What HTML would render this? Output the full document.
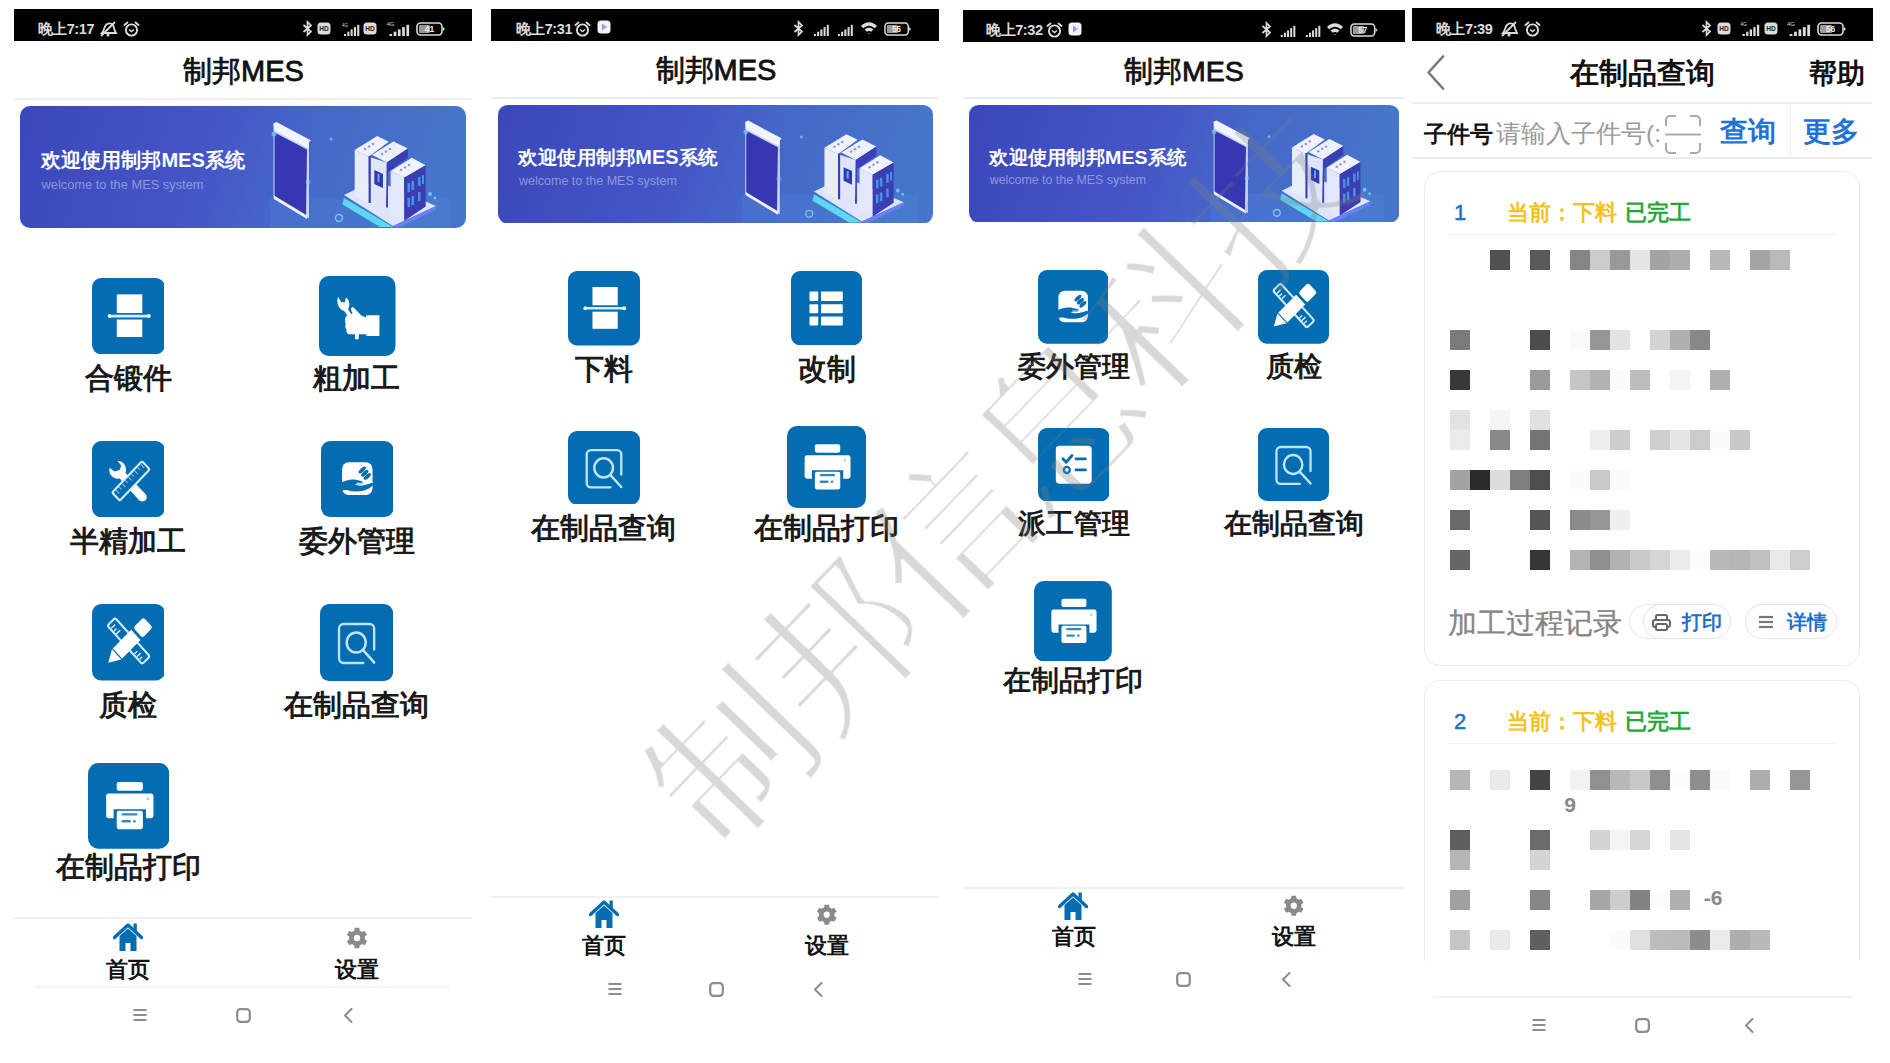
<!DOCTYPE html><html><head><meta charset="utf-8"><style>html,body{margin:0;padding:0}body{width:1890px;height:1063px;overflow:hidden;background:#fff;position:relative;font-family:"Liberation Sans",sans-serif}.a{position:absolute;display:block}.t{position:absolute;white-space:nowrap}</style></head><body>
<div class="a" style="left:14.0px;top:9.0px;width:458.0px;height:32.0px;background:#000;"></div>
<div class="t" style="left:37.5px;top:22.1px;font-size:14.5px;line-height:14.5px;font-weight:bold;color:#dcdcdc;letter-spacing:-0.4px">晚上7:17</div>
<svg class="a" style="left:98px;top:21px" width="20" height="16" viewBox="0 0 20 16"><path d="M4 12 C6 10 6 6 8 4 C10 2 13 2 15 4 C16 6 16 9 18 12 Z" fill="none" stroke="#dcdcdc" stroke-width="1.8"/><line x1="3" y1="15" x2="17" y2="1" stroke="#dcdcdc" stroke-width="1.8"/><circle cx="10" cy="14" r="1.5" fill="#dcdcdc"/></svg>
<svg class="a" style="left:123px;top:21px" width="17" height="16" viewBox="0 0 17 16"><circle cx="8.5" cy="9" r="5.6" fill="none" stroke="#dcdcdc" stroke-width="1.9"/><path d="M6 8.5 L8.5 10.5 L11 8.5" fill="none" stroke="#dcdcdc" stroke-width="1.5"/><path d="M1.5 4 L4.5 1.5 M15.5 4 L12.5 1.5" stroke="#dcdcdc" stroke-width="1.9" stroke-linecap="round"/></svg>
<svg class="a" style="left:301.5px;top:20px" width="11" height="17" viewBox="0 0 11 17"><path d="M1.5 5 L9 11.5 L5.5 15 L5.5 2 L9 5.5 L1.5 12" fill="none" stroke="#dcdcdc" stroke-width="1.7"/></svg>
<svg class="a" style="left:317px;top:22px" width="14" height="13" viewBox="0 0 14 13"><rect x="0.5" y="0.5" width="13" height="12" rx="3.5" fill="#dcdcdc"/><text x="7" y="9.2" font-size="6.5" font-family="Liberation Sans" font-weight="bold" text-anchor="middle" fill="#222">HD</text></svg>
<svg class="a" style="left:338.5px;top:22px" width="21" height="14" viewBox="0 0 21 14" preserveAspectRatio="none"><text x="3" y="4.5" font-size="4.5" font-family="Liberation Sans" fill="#dcdcdc">4G</text><rect x="5.0" y="12.0" width="2.1" height="2.0" fill="#dcdcdc"/><rect x="8.3" y="9.7" width="2.1" height="4.3" fill="#dcdcdc"/><rect x="11.6" y="7.4" width="2.1" height="6.6" fill="#dcdcdc"/><rect x="14.9" y="5.1" width="2.1" height="8.9" fill="#dcdcdc"/><rect x="18.2" y="2.8" width="2.1" height="11.2" fill="#dcdcdc"/></svg>
<svg class="a" style="left:363px;top:22px" width="14" height="13" viewBox="0 0 14 13"><rect x="0.5" y="0.5" width="13" height="12" rx="3.5" fill="#dcdcdc"/><text x="7" y="9.2" font-size="6.5" font-family="Liberation Sans" font-weight="bold" text-anchor="middle" fill="#222">HD</text></svg>
<svg class="a" style="left:382.5px;top:22px" width="27" height="14" viewBox="0 0 21 14" preserveAspectRatio="none"><text x="3" y="4.5" font-size="4.5" font-family="Liberation Sans" fill="#dcdcdc">4G</text><rect x="5.0" y="12.0" width="2.1" height="2.0" fill="#dcdcdc"/><rect x="8.3" y="9.7" width="2.1" height="4.3" fill="#dcdcdc"/><rect x="11.6" y="7.4" width="2.1" height="6.6" fill="#dcdcdc"/><rect x="14.9" y="5.1" width="2.1" height="8.9" fill="#dcdcdc"/><rect x="18.2" y="2.8" width="2.1" height="11.2" fill="#dcdcdc"/></svg>
<svg class="a" style="left:415.5px;top:22px" width="30" height="14" viewBox="0 0 30 14" preserveAspectRatio="none"><rect x="1" y="1" width="25" height="12" rx="3.5" fill="none" stroke="#dcdcdc" stroke-width="1.6"/><rect x="3" y="3" width="11" height="8" rx="1.2" fill="#9a9a9a"/><text x="13.5" y="10.3" font-size="8.5" font-family="Liberation Sans" font-weight="bold" text-anchor="middle" fill="#eee">41</text><path d="M27 5 L29 7 L27 9 Z" fill="#dcdcdc"/></svg>
<div class="t" style="left:-56.5px;width:600px;top:57.0px;font-size:29px;line-height:29px;font-weight:normal;color:#111;text-align:center;-webkit-text-stroke:0.8px #111">制邦MES</div>
<div class="a" style="left:14.0px;top:97.5px;width:458.0px;height:2.0px;background:#efefef;"></div>
<svg class="a" style="left:20.0px;top:106.0px" width="446.0" height="122.0" viewBox="0 0 446 122" preserveAspectRatio="none">
<defs><linearGradient id="bg20" x1="0" y1="0" x2="1" y2="0.1"><stop offset="0" stop-color="#3b47ba"/><stop offset="0.45" stop-color="#4555c6"/><stop offset="0.66" stop-color="#4567c8"/><stop offset="1" stop-color="#4676c9"/></linearGradient>
<linearGradient id="ph20" x1="0" y1="0" x2="0" y2="1"><stop offset="0" stop-color="#3438b0"/><stop offset="1" stop-color="#3a3fbc"/></linearGradient></defs>
<rect x="0" y="0" width="446" height="122" rx="10" ry="10" fill="url(#bg20)"/>
<text x="21" y="61" font-family="Liberation Sans" font-weight="bold" font-size="20" fill="#fff" textLength="204" lengthAdjust="spacingAndGlyphs">欢迎使用制邦MES系统</text>
<text x="21.5" y="82.5" font-family="Liberation Sans" font-size="12.6" fill="#fff" fill-opacity="0.42" textLength="162" lengthAdjust="spacingAndGlyphs">welcome to the MES system</text>
<rect x="250" y="92" width="180" height="30" fill="#4f86e0" opacity="0.25"/>
<path d="M253.5 17.5 L289 36 L289 112.5 L253.5 92 Z" fill="#c9d3f7"/>
<path d="M254.5 26.5 L287 43.5 L286 109.5 L254.5 90.5 Z" fill="#3638b2"/>
<path d="M253.5 17.5 L256.5 16 L291 34.5 L289 36 L288.5 42.5 L254.5 24.5 Z" fill="#f2f5ff"/>
<path d="M254 89.5 L287 109.5 L287 113 L254 93 Z" fill="#eef2ff"/>
<circle cx="254" cy="28" r="2.5" fill="#6fd6ff" opacity="0.6"/><circle cx="288" cy="76" r="2.5" fill="#6fd6ff" opacity="0.5"/>
<circle cx="311" cy="33" r="1.5" fill="#6fd6ff" opacity="0.7"/><circle cx="319" cy="112" r="3.5" fill="none" stroke="#8fe6ff" stroke-width="1.4" opacity="0.7"/>
<path d="M324 89 L355 74 L416 100 L373 120 Z" fill="#dfe5fb"/>
<path d="M322.5 98.5 L360 121 L373 121 L324 92 Z" fill="#5fe3f7" opacity="0.9"/>
<path d="M373 120 L416 100 L416 104 L378 122 Z" fill="#6a7ff0"/>
<path d="M334.7 44 L357.2 30.1 L368.7 35.8 L348.6 50.7 Z" fill="#f0f2fd"/>
<path d="M334.7 44 L348.6 50.7 L348.6 97 L334.7 90 Z" fill="#e8ecfb"/>
<path d="M352 48.8 L373.5 35.4 L387.9 42.6 L366.8 56.5 Z" fill="#eef1fd"/>
<path d="M348.6 50.7 L366.8 56.5 L366.8 101.6 L348.6 97 Z" fill="#dfe5fa"/>
<path d="M366.8 56.5 L387.9 42.6 L387.9 52 L368 66 L368 101.6 L366 101.6 Z" fill="#3a3fb6"/>
<rect x="348.6" y="50" width="2.2" height="47" fill="#3a3fb6"/>
<path d="M354.3 64 L363 68 L363 82 L354.3 78 Z" fill="#3438b4"/>
<rect x="357.5" y="68" width="2" height="8" fill="#4fb0ea"/>
<path d="M370.7 65.1 L391.8 51.7 L405.7 59.3 L384.1 71.8 Z" fill="#f1f3fe"/>
<path d="M370.7 65.1 L384.1 71.8 L384.1 115 L370.7 108 Z" fill="#e3e8fb"/>
<path d="M384.1 71.8 L405.7 59.3 L405.7 100.6 L384.1 115 Z" fill="#3a3db3"/>
<g fill="#4aa0e6" opacity="0.85"><rect x="387.5" y="77" width="2.6" height="9"/><rect x="391.5" y="75" width="2.6" height="9"/><rect x="398" y="71" width="2.6" height="9"/><rect x="402" y="69" width="2" height="9"/><rect x="387.5" y="92" width="2.6" height="9"/><rect x="391.5" y="90" width="2.6" height="9"/><rect x="398" y="86" width="2.6" height="9"/></g>
<g fill="#8f98e2"><circle cx="345" cy="43" r="1.3"/><circle cx="349" cy="40.5" r="1.3"/><circle cx="353" cy="38" r="1.3"/><circle cx="362" cy="48" r="1.3"/><circle cx="366" cy="45.5" r="1.3"/><circle cx="370" cy="43" r="1.3"/><circle cx="381" cy="64" r="1.3"/><circle cx="385" cy="61.5" r="1.3"/><circle cx="389" cy="59" r="1.3"/></g>
<circle cx="410" cy="88" r="2" fill="#6fd6ff" opacity="0.8"/><circle cx="415" cy="92" r="1.4" fill="#6fd6ff" opacity="0.8"/>
</svg>
<svg class="a" style="left:91.6px;top:277.6px" width="72.9" height="76.2" viewBox="0 0 100 100" preserveAspectRatio="none"><rect x="0" y="0" width="100" height="100" rx="12.5" ry="12.5" fill="#046cb0"/><rect x="34" y="21.5" width="35" height="24.5" fill="#fff"/>
<rect x="34" y="54.5" width="35" height="23" fill="#fff"/>
<line x1="24" y1="50" x2="78" y2="50" stroke="#cdeeff" stroke-width="3.5" stroke-linecap="round"/>
<circle cx="24" cy="50" r="2.6" fill="#e6f7ff"/><circle cx="78" cy="50" r="2.6" fill="#e6f7ff"/></svg>
<div class="t" style="left:-171.2px;width:600px;top:364.0px;font-size:29px;line-height:29px;font-weight:bold;color:#1a1a1a;text-align:center;">合锻件</div>
<svg class="a" style="left:319.1px;top:275.7px" width="76.5" height="79.9" viewBox="0 0 100 100" preserveAspectRatio="none"><rect x="0" y="0" width="100" height="100" rx="12.5" ry="12.5" fill="#046cb0"/><path d="M25 26 C22 34 26 42 33 44 L40 53 L44 50 L38 42 C41 36 40 30 35 27 L34 33 L29 33 Z" fill="#fff"/>
<path d="M34 55 C34 51 37 48 41 48 L44 47 L42 43 C41 40 44 38 46 40 L55 49 L61 52 L62 49 L79 49 L79 75 L62 75 L62 73 L52 73 L52 78 C52 80 47 80 47 78 L47 73 L41 73 C37 73 35 70 36 67 C34 65 34 62 35 60 C34 58 34 56 34 55 Z" fill="#fff"/></svg>
<div class="t" style="left:56.5px;width:600px;top:364.0px;font-size:29px;line-height:29px;font-weight:bold;color:#1a1a1a;text-align:center;">粗加工</div>
<svg class="a" style="left:91.6px;top:440.7px" width="72.9" height="76.3" viewBox="0 0 100 100" preserveAspectRatio="none"><rect x="0" y="0" width="100" height="100" rx="12.5" ry="12.5" fill="#046cb0"/><path d="M24 35 C22 44 30 51 38 49 L64 77 C67 80 72 80 74 77 C76 74 75 71 73 69 L46 42 C49 34 43 26 35 26 L40 32 L38 38 L31 40 Z" fill="#fff"/>
<g transform="rotate(-45 53 52)"><rect x="24" y="45" width="58" height="15" rx="2" fill="#046cb0" stroke="#d6f0ff" stroke-width="2.8"/>
<g stroke="#8cc6ee" stroke-width="1.4"><line x1="30" y1="46.5" x2="30" y2="53"/><line x1="36" y1="46.5" x2="36" y2="51"/><line x1="42" y1="46.5" x2="42" y2="53"/><line x1="48" y1="46.5" x2="48" y2="51"/><line x1="54" y1="46.5" x2="54" y2="53"/><line x1="60" y1="46.5" x2="60" y2="51"/><line x1="66" y1="46.5" x2="66" y2="53"/><line x1="72" y1="46.5" x2="72" y2="51"/><line x1="78" y1="46.5" x2="78" y2="53"/></g></g></svg>
<div class="t" style="left:-171.7px;width:600px;top:527.1px;font-size:29px;line-height:29px;font-weight:bold;color:#1a1a1a;text-align:center;">半精加工</div>
<svg class="a" style="left:320.7px;top:441.0px" width="72.6" height="76.0" viewBox="0 0 100 100" preserveAspectRatio="none"><rect x="0" y="0" width="100" height="100" rx="12.5" ry="12.5" fill="#046cb0"/><rect x="29" y="28" width="42" height="43" rx="9" fill="#fff"/>
<path d="M27 55 C36 51 44 49 56 53 C59 54 58 57 54 57 L46 57 C52 60 60 59 70 55 L72 58 C64 66 52 68 38 65 C34 64 30 65 27 66 Z" fill="#046cb0"/>
<path d="M49 55.5 C53 56 56 55.5 57 55" fill="none" stroke="#bfe4fb" stroke-width="1.5"/>
<g transform="rotate(-40 60 42)" fill="#046cb0"><ellipse cx="60" cy="37" rx="6" ry="2.6"/><ellipse cx="60" cy="42.5" rx="6" ry="2.6"/><ellipse cx="60" cy="48" rx="6" ry="2.6"/></g></svg>
<div class="t" style="left:57.2px;width:600px;top:527.1px;font-size:29px;line-height:29px;font-weight:bold;color:#1a1a1a;text-align:center;">委外管理</div>
<svg class="a" style="left:91.6px;top:604.0px" width="72.9" height="76.6" viewBox="0 0 100 100" preserveAspectRatio="none"><rect x="0" y="0" width="100" height="100" rx="12.5" ry="12.5" fill="#046cb0"/><g transform="rotate(46.5 50.25 48.3)"><rect x="15.5" y="41" width="69.5" height="14.6" rx="3" fill="none" stroke="#cfeeff" stroke-width="2.8"/>
<g stroke="#cfeeff" stroke-width="2"><line x1="22" y1="54" x2="22" y2="47"/><line x1="27" y1="54" x2="27" y2="49"/><line x1="32" y1="54" x2="32" y2="47"/><line x1="68" y1="54" x2="68" y2="49"/><line x1="73" y1="54" x2="73" y2="47"/><line x1="78" y1="54" x2="78" y2="49"/></g></g>
<g transform="rotate(-44 50.1 50)"><rect x="29" y="40.8" width="35" height="18.4" fill="#fff"/><rect x="68" y="40.8" width="19.5" height="18.4" rx="3.5" fill="#fff"/>
<path d="M27.5 40.8 L27.5 59.2 L11.5 50 Z" fill="#fff"/></g></svg>
<div class="t" style="left:-172.0px;width:600px;top:690.5px;font-size:29px;line-height:29px;font-weight:bold;color:#1a1a1a;text-align:center;">质检</div>
<svg class="a" style="left:320.3px;top:603.6px" width="73.2" height="77.0" viewBox="0 0 100 100" preserveAspectRatio="none"><rect x="0" y="0" width="100" height="100" rx="12.5" ry="12.5" fill="#046cb0"/><path d="M59 76.5 H32 a6 6 0 0 1 -6 -6 V32 a6 6 0 0 1 6 -6 H68 a6 6 0 0 1 6 6 V59" fill="none" stroke="#bfe4fb" stroke-width="3.2" stroke-linecap="round"/>
<circle cx="49.5" cy="50" r="13" fill="none" stroke="#bfe4fb" stroke-width="3.4"/>
<line x1="59" y1="60" x2="74" y2="76" stroke="#bfe4fb" stroke-width="3.4" stroke-linecap="round"/></svg>
<div class="t" style="left:56.9px;width:600px;top:690.5px;font-size:29px;line-height:29px;font-weight:bold;color:#1a1a1a;text-align:center;">在制品查询</div>
<svg class="a" style="left:87.5px;top:762.9px" width="81.4" height="85.7" viewBox="0 0 100 100" preserveAspectRatio="none"><rect x="0" y="0" width="100" height="100" rx="12.5" ry="12.5" fill="#046cb0"/><rect x="35.3" y="22.2" width="32.1" height="10.3" rx="2.5" fill="#fff"/>
<path d="M25.3 35.6 H77.4 a3 3 0 0 1 3 3 V61.4 a3 3 0 0 1 -3 3 H71.2 V54.1 H31.5 V64.4 H25.3 a3 3 0 0 1 -3 -3 V38.6 a3 3 0 0 1 3 -3 Z" fill="#fff"/>
<rect x="35.3" y="55.7" width="32.1" height="21.6" rx="2.5" fill="#fff"/>
<rect x="41.3" y="58.6" width="19.6" height="2.8" rx="1.4" fill="#046cb0" opacity="0.8"/>
<rect x="41.3" y="66.6" width="11.4" height="2.8" rx="1.4" fill="#046cb0" opacity="0.8"/>
<circle cx="57" cy="68" r="1.6" fill="#046cb0" opacity="0.8"/>
<circle cx="73.4" cy="42" r="1.6" fill="#9fd0f0"/></svg>
<div class="t" style="left:-172.0px;width:600px;top:853.0px;font-size:29px;line-height:29px;font-weight:bold;color:#1a1a1a;text-align:center;">在制品打印</div>
<div class="a" style="left:14.0px;top:917.0px;width:458.0px;height:2.0px;background:#f0f0f0;"></div>
<svg class="a" style="left:113.2px;top:922.5px" width="30.0" height="29.0" viewBox="0 0 30 29"><path d="M6.5 13 L15 5.5 L23.5 13 L23.5 28 L17.5 28 L17.5 20 L12.5 20 L12.5 28 L6.5 28 Z" fill="#046cb0"/><path d="M1.5 14.5 L15 2 L28.5 14.5" fill="none" stroke="#046cb0" stroke-width="3.4" stroke-linecap="round" stroke-linejoin="round"/><rect x="20.5" y="0.5" width="3.3" height="8" fill="#046cb0"/></svg>
<svg class="a" style="left:345.0px;top:925.6px" width="24" height="24" viewBox="0 0 24 24"><path d="M9.40 4.44 L9.64 1.77 L14.36 1.77 L14.60 4.44 L17.25 5.96 L19.68 4.84 L22.04 8.93 L19.85 10.47 L19.85 13.53 L22.04 15.07 L19.68 19.16 L17.25 18.04 L14.60 19.56 L14.36 22.23 L9.64 22.23 L9.40 19.56 L6.75 18.04 L4.32 19.16 L1.96 15.07 L4.15 13.53 L4.15 10.47 L1.96 8.93 L4.32 4.84 L6.75 5.96 Z M15.2 12 A3.2 3.2 0 1 0 8.8 12 A3.2 3.2 0 1 0 15.2 12 Z" fill="#8a8a8a" fill-rule="evenodd"/></svg>
<div class="t" style="left:-171.7px;width:600px;top:958.7px;font-size:22px;line-height:22px;font-weight:bold;color:#111;text-align:center;">首页</div>
<div class="t" style="left:57.2px;width:600px;top:958.7px;font-size:22px;line-height:22px;font-weight:bold;color:#111;text-align:center;">设置</div>
<div class="a" style="left:35.0px;top:986.0px;width:414.0px;height:1.5px;background:#f2f2f2;"></div>
<svg class="a" style="left:133.0px;top:1008.0px" width="14" height="14" viewBox="0 0 14 14"><g stroke="#8c8c8c" stroke-width="2"><line x1="0.5" y1="2" x2="13.5" y2="2"/><line x1="0.5" y1="7" x2="13.5" y2="7"/><line x1="0.5" y1="12" x2="13.5" y2="12"/></g></svg>
<svg class="a" style="left:235.5px;top:1008.0px" width="15" height="15" viewBox="0 0 15 15"><rect x="1.2" y="1.2" width="12.6" height="12.6" rx="3.2" fill="none" stroke="#8c8c8c" stroke-width="2.2"/></svg>
<svg class="a" style="left:343.0px;top:1008.0px" width="10" height="15" viewBox="0 0 10 15"><path d="M8.5 1 L2 7.5 L8.5 14" fill="none" stroke="#8c8c8c" stroke-width="2" stroke-linecap="round" stroke-linejoin="round"/></svg>
<div class="a" style="left:491.0px;top:8.6px;width:448.0px;height:32.0px;background:#000;"></div>
<div class="t" style="left:515.5px;top:21.8px;font-size:14.5px;line-height:14.5px;font-weight:bold;color:#dcdcdc;letter-spacing:-0.4px">晚上7:31</div>
<svg class="a" style="left:574px;top:20.5px" width="17" height="16" viewBox="0 0 17 16"><circle cx="8.5" cy="9" r="5.6" fill="none" stroke="#dcdcdc" stroke-width="1.9"/><path d="M6 8.5 L8.5 10.5 L11 8.5" fill="none" stroke="#dcdcdc" stroke-width="1.5"/><path d="M1.5 4 L4.5 1.5 M15.5 4 L12.5 1.5" stroke="#dcdcdc" stroke-width="1.9" stroke-linecap="round"/></svg>
<svg class="a" style="left:597px;top:20px" width="14" height="14" viewBox="0 0 14 14"><rect x="0.5" y="0.5" width="13" height="13" rx="3.5" fill="#f4f4f8"/><path d="M5 3.5 L10.5 7 L5 10.5 Z" fill="#f09ab8"/><path d="M5 3.5 L8 7 L5 10.5Z" fill="#7aa4f0"/></svg>
<svg class="a" style="left:792.5px;top:19.5px" width="11" height="17" viewBox="0 0 11 17"><path d="M1.5 5 L9 11.5 L5.5 15 L5.5 2 L9 5.5 L1.5 12" fill="none" stroke="#dcdcdc" stroke-width="1.7"/></svg>
<svg class="a" style="left:808.5px;top:21.5px" width="20.5" height="14" viewBox="0 0 21 14" preserveAspectRatio="none"><rect x="5.0" y="12.0" width="2.1" height="2.0" fill="#dcdcdc"/><rect x="8.3" y="9.7" width="2.1" height="4.3" fill="#dcdcdc"/><rect x="11.6" y="7.4" width="2.1" height="6.6" fill="#dcdcdc"/><rect x="14.9" y="5.1" width="2.1" height="8.9" fill="#dcdcdc"/><rect x="18.2" y="2.8" width="2.1" height="11.2" fill="#dcdcdc"/></svg>
<svg class="a" style="left:832.5px;top:21.5px" width="20.5" height="14" viewBox="0 0 21 14" preserveAspectRatio="none"><rect x="5.0" y="12.0" width="2.1" height="2.0" fill="#dcdcdc"/><rect x="8.3" y="9.7" width="2.1" height="4.3" fill="#dcdcdc"/><rect x="11.6" y="7.4" width="2.1" height="6.6" fill="#dcdcdc"/><rect x="14.9" y="5.1" width="2.1" height="8.9" fill="#dcdcdc"/><rect x="18.2" y="2.8" width="2.1" height="11.2" fill="#dcdcdc"/></svg>
<svg class="a" style="left:859.5px;top:20.5px" width="18" height="14" viewBox="0 0 18 14"><path d="M1 5 C6 0 12 0 17 5 L14.8 7.2 C11 3.8 7 3.8 3.2 7.2 Z M4.6 8.6 C7.5 6 10.5 6 13.4 8.6 L11.2 10.8 C9.8 9.6 8.2 9.6 6.8 10.8 Z M8.2 12.2 L9 13.2 L9.8 12.2 C9.3 11.8 8.7 11.8 8.2 12.2Z" fill="#dcdcdc"/></svg>
<svg class="a" style="left:883.5px;top:21.5px" width="28" height="14" viewBox="0 0 30 14" preserveAspectRatio="none"><rect x="1" y="1" width="25" height="12" rx="3.5" fill="none" stroke="#dcdcdc" stroke-width="1.6"/><rect x="3" y="3" width="12" height="8" rx="1.2" fill="#9a9a9a"/><text x="13.5" y="10.3" font-size="8.5" font-family="Liberation Sans" font-weight="bold" text-anchor="middle" fill="#eee">55</text><path d="M27 5 L29 7 L27 9 Z" fill="#dcdcdc"/></svg>
<div class="t" style="left:416.0px;width:600px;top:56.0px;font-size:29px;line-height:29px;font-weight:normal;color:#111;text-align:center;-webkit-text-stroke:0.8px #111">制邦MES</div>
<div class="a" style="left:491.0px;top:96.5px;width:448.0px;height:2.0px;background:#ececec;"></div>
<svg class="a" style="left:498.0px;top:104.5px" width="435.0" height="118.5" viewBox="0 0 446 122" preserveAspectRatio="none">
<defs><linearGradient id="bg498" x1="0" y1="0" x2="1" y2="0.1"><stop offset="0" stop-color="#3b47ba"/><stop offset="0.45" stop-color="#4555c6"/><stop offset="0.66" stop-color="#4567c8"/><stop offset="1" stop-color="#4676c9"/></linearGradient>
<linearGradient id="ph498" x1="0" y1="0" x2="0" y2="1"><stop offset="0" stop-color="#3438b0"/><stop offset="1" stop-color="#3a3fbc"/></linearGradient></defs>
<rect x="0" y="0" width="446" height="122" rx="10" ry="10" fill="url(#bg498)"/>
<text x="21" y="61" font-family="Liberation Sans" font-weight="bold" font-size="20" fill="#fff" textLength="204" lengthAdjust="spacingAndGlyphs">欢迎使用制邦MES系统</text>
<text x="21.5" y="82.5" font-family="Liberation Sans" font-size="12.6" fill="#fff" fill-opacity="0.42" textLength="162" lengthAdjust="spacingAndGlyphs">welcome to the MES system</text>
<rect x="250" y="92" width="180" height="30" fill="#4f86e0" opacity="0.25"/>
<path d="M253.5 17.5 L289 36 L289 112.5 L253.5 92 Z" fill="#c9d3f7"/>
<path d="M254.5 26.5 L287 43.5 L286 109.5 L254.5 90.5 Z" fill="#3638b2"/>
<path d="M253.5 17.5 L256.5 16 L291 34.5 L289 36 L288.5 42.5 L254.5 24.5 Z" fill="#f2f5ff"/>
<path d="M254 89.5 L287 109.5 L287 113 L254 93 Z" fill="#eef2ff"/>
<circle cx="254" cy="28" r="2.5" fill="#6fd6ff" opacity="0.6"/><circle cx="288" cy="76" r="2.5" fill="#6fd6ff" opacity="0.5"/>
<circle cx="311" cy="33" r="1.5" fill="#6fd6ff" opacity="0.7"/><circle cx="319" cy="112" r="3.5" fill="none" stroke="#8fe6ff" stroke-width="1.4" opacity="0.7"/>
<path d="M324 89 L355 74 L416 100 L373 120 Z" fill="#dfe5fb"/>
<path d="M322.5 98.5 L360 121 L373 121 L324 92 Z" fill="#5fe3f7" opacity="0.9"/>
<path d="M373 120 L416 100 L416 104 L378 122 Z" fill="#6a7ff0"/>
<path d="M334.7 44 L357.2 30.1 L368.7 35.8 L348.6 50.7 Z" fill="#f0f2fd"/>
<path d="M334.7 44 L348.6 50.7 L348.6 97 L334.7 90 Z" fill="#e8ecfb"/>
<path d="M352 48.8 L373.5 35.4 L387.9 42.6 L366.8 56.5 Z" fill="#eef1fd"/>
<path d="M348.6 50.7 L366.8 56.5 L366.8 101.6 L348.6 97 Z" fill="#dfe5fa"/>
<path d="M366.8 56.5 L387.9 42.6 L387.9 52 L368 66 L368 101.6 L366 101.6 Z" fill="#3a3fb6"/>
<rect x="348.6" y="50" width="2.2" height="47" fill="#3a3fb6"/>
<path d="M354.3 64 L363 68 L363 82 L354.3 78 Z" fill="#3438b4"/>
<rect x="357.5" y="68" width="2" height="8" fill="#4fb0ea"/>
<path d="M370.7 65.1 L391.8 51.7 L405.7 59.3 L384.1 71.8 Z" fill="#f1f3fe"/>
<path d="M370.7 65.1 L384.1 71.8 L384.1 115 L370.7 108 Z" fill="#e3e8fb"/>
<path d="M384.1 71.8 L405.7 59.3 L405.7 100.6 L384.1 115 Z" fill="#3a3db3"/>
<g fill="#4aa0e6" opacity="0.85"><rect x="387.5" y="77" width="2.6" height="9"/><rect x="391.5" y="75" width="2.6" height="9"/><rect x="398" y="71" width="2.6" height="9"/><rect x="402" y="69" width="2" height="9"/><rect x="387.5" y="92" width="2.6" height="9"/><rect x="391.5" y="90" width="2.6" height="9"/><rect x="398" y="86" width="2.6" height="9"/></g>
<g fill="#8f98e2"><circle cx="345" cy="43" r="1.3"/><circle cx="349" cy="40.5" r="1.3"/><circle cx="353" cy="38" r="1.3"/><circle cx="362" cy="48" r="1.3"/><circle cx="366" cy="45.5" r="1.3"/><circle cx="370" cy="43" r="1.3"/><circle cx="381" cy="64" r="1.3"/><circle cx="385" cy="61.5" r="1.3"/><circle cx="389" cy="59" r="1.3"/></g>
<circle cx="410" cy="88" r="2" fill="#6fd6ff" opacity="0.8"/><circle cx="415" cy="92" r="1.4" fill="#6fd6ff" opacity="0.8"/>
</svg>
<svg class="a" style="left:567.5px;top:271.0px" width="72.0" height="74.6" viewBox="0 0 100 100" preserveAspectRatio="none"><rect x="0" y="0" width="100" height="100" rx="12.5" ry="12.5" fill="#046cb0"/><rect x="34" y="21.5" width="35" height="24.5" fill="#fff"/>
<rect x="34" y="54.5" width="35" height="23" fill="#fff"/>
<line x1="24" y1="50" x2="78" y2="50" stroke="#cdeeff" stroke-width="3.5" stroke-linecap="round"/>
<circle cx="24" cy="50" r="2.6" fill="#e6f7ff"/><circle cx="78" cy="50" r="2.6" fill="#e6f7ff"/></svg>
<div class="t" style="left:304.4px;width:600px;top:355.1px;font-size:28.5px;line-height:28.5px;font-weight:bold;color:#1a1a1a;text-align:center;">下料</div>
<svg class="a" style="left:791.1px;top:271.1px" width="71.1" height="74.3" viewBox="0 0 100 100" preserveAspectRatio="none"><rect x="0" y="0" width="100" height="100" rx="12.5" ry="12.5" fill="#046cb0"/><rect x="26" y="27.7" width="12.3" height="12.7" rx="1.5" fill="#fff"/><rect x="42.2" y="27.7" width="30.6" height="12.7" rx="1" fill="#fff"/><rect x="26" y="44.6" width="12.3" height="12.399999999999999" rx="1.5" fill="#fff"/><rect x="42.2" y="44.6" width="30.6" height="12.399999999999999" rx="1" fill="#fff"/><rect x="26" y="61.2" width="12.3" height="12.200000000000003" rx="1.5" fill="#fff"/><rect x="42.2" y="61.2" width="30.6" height="12.200000000000003" rx="1" fill="#fff"/></svg>
<div class="t" style="left:526.5px;width:600px;top:355.1px;font-size:28.5px;line-height:28.5px;font-weight:bold;color:#1a1a1a;text-align:center;">改制</div>
<svg class="a" style="left:567.5px;top:430.8px" width="72.0" height="73.7" viewBox="0 0 100 100" preserveAspectRatio="none"><rect x="0" y="0" width="100" height="100" rx="12.5" ry="12.5" fill="#046cb0"/><path d="M59 76.5 H32 a6 6 0 0 1 -6 -6 V32 a6 6 0 0 1 6 -6 H68 a6 6 0 0 1 6 6 V59" fill="none" stroke="#bfe4fb" stroke-width="3.2" stroke-linecap="round"/>
<circle cx="49.5" cy="50" r="13" fill="none" stroke="#bfe4fb" stroke-width="3.4"/>
<line x1="59" y1="60" x2="74" y2="76" stroke="#bfe4fb" stroke-width="3.4" stroke-linecap="round"/></svg>
<div class="t" style="left:303.5px;width:600px;top:514.0px;font-size:28.5px;line-height:28.5px;font-weight:bold;color:#1a1a1a;text-align:center;">在制品查询</div>
<svg class="a" style="left:787.0px;top:426.0px" width="79.0" height="82.0" viewBox="0 0 100 100" preserveAspectRatio="none"><rect x="0" y="0" width="100" height="100" rx="12.5" ry="12.5" fill="#046cb0"/><rect x="35.3" y="22.2" width="32.1" height="10.3" rx="2.5" fill="#fff"/>
<path d="M25.3 35.6 H77.4 a3 3 0 0 1 3 3 V61.4 a3 3 0 0 1 -3 3 H71.2 V54.1 H31.5 V64.4 H25.3 a3 3 0 0 1 -3 -3 V38.6 a3 3 0 0 1 3 -3 Z" fill="#fff"/>
<rect x="35.3" y="55.7" width="32.1" height="21.6" rx="2.5" fill="#fff"/>
<rect x="41.3" y="58.6" width="19.6" height="2.8" rx="1.4" fill="#046cb0" opacity="0.8"/>
<rect x="41.3" y="66.6" width="11.4" height="2.8" rx="1.4" fill="#046cb0" opacity="0.8"/>
<circle cx="57" cy="68" r="1.6" fill="#046cb0" opacity="0.8"/>
<circle cx="73.4" cy="42" r="1.6" fill="#9fd0f0"/></svg>
<div class="t" style="left:526.3px;width:600px;top:514.0px;font-size:28.5px;line-height:28.5px;font-weight:bold;color:#1a1a1a;text-align:center;">在制品打印</div>
<div class="a" style="left:491.0px;top:896.0px;width:448.0px;height:2.0px;background:#f0f0f0;"></div>
<svg class="a" style="left:588.5px;top:899.5px" width="30.0" height="29.0" viewBox="0 0 30 29"><path d="M6.5 13 L15 5.5 L23.5 13 L23.5 28 L17.5 28 L17.5 20 L12.5 20 L12.5 28 L6.5 28 Z" fill="#046cb0"/><path d="M1.5 14.5 L15 2 L28.5 14.5" fill="none" stroke="#046cb0" stroke-width="3.4" stroke-linecap="round" stroke-linejoin="round"/><rect x="20.5" y="0.5" width="3.3" height="8" fill="#046cb0"/></svg>
<svg class="a" style="left:814.8px;top:903.0px" width="23.5" height="23.5" viewBox="0 0 24 24"><path d="M9.40 4.44 L9.64 1.77 L14.36 1.77 L14.60 4.44 L17.25 5.96 L19.68 4.84 L22.04 8.93 L19.85 10.47 L19.85 13.53 L22.04 15.07 L19.68 19.16 L17.25 18.04 L14.60 19.56 L14.36 22.23 L9.64 22.23 L9.40 19.56 L6.75 18.04 L4.32 19.16 L1.96 15.07 L4.15 13.53 L4.15 10.47 L1.96 8.93 L4.32 4.84 L6.75 5.96 Z M15.2 12 A3.2 3.2 0 1 0 8.8 12 A3.2 3.2 0 1 0 15.2 12 Z" fill="#8a8a8a" fill-rule="evenodd"/></svg>
<div class="t" style="left:304.0px;width:600px;top:935.5px;font-size:21.5px;line-height:21.5px;font-weight:bold;color:#111;text-align:center;">首页</div>
<div class="t" style="left:526.8px;width:600px;top:935.5px;font-size:21.5px;line-height:21.5px;font-weight:bold;color:#111;text-align:center;">设置</div>
<svg class="a" style="left:608.0px;top:982.0px" width="14" height="14" viewBox="0 0 14 14"><g stroke="#8c8c8c" stroke-width="2"><line x1="0.5" y1="2" x2="13.5" y2="2"/><line x1="0.5" y1="7" x2="13.5" y2="7"/><line x1="0.5" y1="12" x2="13.5" y2="12"/></g></svg>
<svg class="a" style="left:708.5px;top:982.0px" width="15" height="15" viewBox="0 0 15 15"><rect x="1.2" y="1.2" width="12.6" height="12.6" rx="3.2" fill="none" stroke="#8c8c8c" stroke-width="2.2"/></svg>
<svg class="a" style="left:813.0px;top:982.0px" width="10" height="15" viewBox="0 0 10 15"><path d="M8.5 1 L2 7.5 L8.5 14" fill="none" stroke="#8c8c8c" stroke-width="2" stroke-linecap="round" stroke-linejoin="round"/></svg>
<div class="a" style="left:963.0px;top:10.4px;width:441.6px;height:31.4px;background:#000;"></div>
<div class="t" style="left:986.0px;top:23.1px;font-size:14.5px;line-height:14.5px;font-weight:bold;color:#dcdcdc;letter-spacing:-0.4px">晚上7:32</div>
<svg class="a" style="left:1046px;top:22px" width="17" height="16" viewBox="0 0 17 16"><circle cx="8.5" cy="9" r="5.6" fill="none" stroke="#dcdcdc" stroke-width="1.9"/><path d="M6 8.5 L8.5 10.5 L11 8.5" fill="none" stroke="#dcdcdc" stroke-width="1.5"/><path d="M1.5 4 L4.5 1.5 M15.5 4 L12.5 1.5" stroke="#dcdcdc" stroke-width="1.9" stroke-linecap="round"/></svg>
<svg class="a" style="left:1068px;top:21.5px" width="14" height="14" viewBox="0 0 14 14"><rect x="0.5" y="0.5" width="13" height="13" rx="3.5" fill="#f4f4f8"/><path d="M5 3.5 L10.5 7 L5 10.5 Z" fill="#f09ab8"/><path d="M5 3.5 L8 7 L5 10.5Z" fill="#7aa4f0"/></svg>
<svg class="a" style="left:1260.5px;top:21px" width="11" height="17" viewBox="0 0 11 17"><path d="M1.5 5 L9 11.5 L5.5 15 L5.5 2 L9 5.5 L1.5 12" fill="none" stroke="#dcdcdc" stroke-width="1.7"/></svg>
<svg class="a" style="left:1276px;top:23px" width="20" height="14" viewBox="0 0 21 14" preserveAspectRatio="none"><rect x="5.0" y="12.0" width="2.1" height="2.0" fill="#dcdcdc"/><rect x="8.3" y="9.7" width="2.1" height="4.3" fill="#dcdcdc"/><rect x="11.6" y="7.4" width="2.1" height="6.6" fill="#dcdcdc"/><rect x="14.9" y="5.1" width="2.1" height="8.9" fill="#dcdcdc"/><rect x="18.2" y="2.8" width="2.1" height="11.2" fill="#dcdcdc"/></svg>
<svg class="a" style="left:1300.5px;top:23px" width="20" height="14" viewBox="0 0 21 14" preserveAspectRatio="none"><rect x="5.0" y="12.0" width="2.1" height="2.0" fill="#dcdcdc"/><rect x="8.3" y="9.7" width="2.1" height="4.3" fill="#dcdcdc"/><rect x="11.6" y="7.4" width="2.1" height="6.6" fill="#dcdcdc"/><rect x="14.9" y="5.1" width="2.1" height="8.9" fill="#dcdcdc"/><rect x="18.2" y="2.8" width="2.1" height="11.2" fill="#dcdcdc"/></svg>
<svg class="a" style="left:1326px;top:22px" width="18" height="14" viewBox="0 0 18 14"><path d="M1 5 C6 0 12 0 17 5 L14.8 7.2 C11 3.8 7 3.8 3.2 7.2 Z M4.6 8.6 C7.5 6 10.5 6 13.4 8.6 L11.2 10.8 C9.8 9.6 8.2 9.6 6.8 10.8 Z M8.2 12.2 L9 13.2 L9.8 12.2 C9.3 11.8 8.7 11.8 8.2 12.2Z" fill="#dcdcdc"/></svg>
<svg class="a" style="left:1350px;top:23px" width="28.5" height="14" viewBox="0 0 30 14" preserveAspectRatio="none"><rect x="1" y="1" width="25" height="12" rx="3.5" fill="none" stroke="#dcdcdc" stroke-width="1.6"/><rect x="3" y="3" width="12" height="8" rx="1.2" fill="#9a9a9a"/><text x="13.5" y="10.3" font-size="8.5" font-family="Liberation Sans" font-weight="bold" text-anchor="middle" fill="#eee">57</text><path d="M27 5 L29 7 L27 9 Z" fill="#dcdcdc"/></svg>
<div class="t" style="left:884.0px;width:600px;top:56.5px;font-size:28.5px;line-height:28.5px;font-weight:normal;color:#111;text-align:center;-webkit-text-stroke:0.8px #111">制邦MES</div>
<div class="a" style="left:963.0px;top:97.0px;width:442.0px;height:2.0px;background:#ececec;"></div>
<svg class="a" style="left:968.6px;top:104.5px" width="430.4" height="117.5" viewBox="0 0 446 122" preserveAspectRatio="none">
<defs><linearGradient id="bg968" x1="0" y1="0" x2="1" y2="0.1"><stop offset="0" stop-color="#3b47ba"/><stop offset="0.45" stop-color="#4555c6"/><stop offset="0.66" stop-color="#4567c8"/><stop offset="1" stop-color="#4676c9"/></linearGradient>
<linearGradient id="ph968" x1="0" y1="0" x2="0" y2="1"><stop offset="0" stop-color="#3438b0"/><stop offset="1" stop-color="#3a3fbc"/></linearGradient></defs>
<rect x="0" y="0" width="446" height="122" rx="10" ry="10" fill="url(#bg968)"/>
<text x="21" y="61" font-family="Liberation Sans" font-weight="bold" font-size="20" fill="#fff" textLength="204" lengthAdjust="spacingAndGlyphs">欢迎使用制邦MES系统</text>
<text x="21.5" y="82.5" font-family="Liberation Sans" font-size="12.6" fill="#fff" fill-opacity="0.42" textLength="162" lengthAdjust="spacingAndGlyphs">welcome to the MES system</text>
<rect x="250" y="92" width="180" height="30" fill="#4f86e0" opacity="0.25"/>
<path d="M253.5 17.5 L289 36 L289 112.5 L253.5 92 Z" fill="#c9d3f7"/>
<path d="M254.5 26.5 L287 43.5 L286 109.5 L254.5 90.5 Z" fill="#3638b2"/>
<path d="M253.5 17.5 L256.5 16 L291 34.5 L289 36 L288.5 42.5 L254.5 24.5 Z" fill="#f2f5ff"/>
<path d="M254 89.5 L287 109.5 L287 113 L254 93 Z" fill="#eef2ff"/>
<circle cx="254" cy="28" r="2.5" fill="#6fd6ff" opacity="0.6"/><circle cx="288" cy="76" r="2.5" fill="#6fd6ff" opacity="0.5"/>
<circle cx="311" cy="33" r="1.5" fill="#6fd6ff" opacity="0.7"/><circle cx="319" cy="112" r="3.5" fill="none" stroke="#8fe6ff" stroke-width="1.4" opacity="0.7"/>
<path d="M324 89 L355 74 L416 100 L373 120 Z" fill="#dfe5fb"/>
<path d="M322.5 98.5 L360 121 L373 121 L324 92 Z" fill="#5fe3f7" opacity="0.9"/>
<path d="M373 120 L416 100 L416 104 L378 122 Z" fill="#6a7ff0"/>
<path d="M334.7 44 L357.2 30.1 L368.7 35.8 L348.6 50.7 Z" fill="#f0f2fd"/>
<path d="M334.7 44 L348.6 50.7 L348.6 97 L334.7 90 Z" fill="#e8ecfb"/>
<path d="M352 48.8 L373.5 35.4 L387.9 42.6 L366.8 56.5 Z" fill="#eef1fd"/>
<path d="M348.6 50.7 L366.8 56.5 L366.8 101.6 L348.6 97 Z" fill="#dfe5fa"/>
<path d="M366.8 56.5 L387.9 42.6 L387.9 52 L368 66 L368 101.6 L366 101.6 Z" fill="#3a3fb6"/>
<rect x="348.6" y="50" width="2.2" height="47" fill="#3a3fb6"/>
<path d="M354.3 64 L363 68 L363 82 L354.3 78 Z" fill="#3438b4"/>
<rect x="357.5" y="68" width="2" height="8" fill="#4fb0ea"/>
<path d="M370.7 65.1 L391.8 51.7 L405.7 59.3 L384.1 71.8 Z" fill="#f1f3fe"/>
<path d="M370.7 65.1 L384.1 71.8 L384.1 115 L370.7 108 Z" fill="#e3e8fb"/>
<path d="M384.1 71.8 L405.7 59.3 L405.7 100.6 L384.1 115 Z" fill="#3a3db3"/>
<g fill="#4aa0e6" opacity="0.85"><rect x="387.5" y="77" width="2.6" height="9"/><rect x="391.5" y="75" width="2.6" height="9"/><rect x="398" y="71" width="2.6" height="9"/><rect x="402" y="69" width="2" height="9"/><rect x="387.5" y="92" width="2.6" height="9"/><rect x="391.5" y="90" width="2.6" height="9"/><rect x="398" y="86" width="2.6" height="9"/></g>
<g fill="#8f98e2"><circle cx="345" cy="43" r="1.3"/><circle cx="349" cy="40.5" r="1.3"/><circle cx="353" cy="38" r="1.3"/><circle cx="362" cy="48" r="1.3"/><circle cx="366" cy="45.5" r="1.3"/><circle cx="370" cy="43" r="1.3"/><circle cx="381" cy="64" r="1.3"/><circle cx="385" cy="61.5" r="1.3"/><circle cx="389" cy="59" r="1.3"/></g>
<circle cx="410" cy="88" r="2" fill="#6fd6ff" opacity="0.8"/><circle cx="415" cy="92" r="1.4" fill="#6fd6ff" opacity="0.8"/>
</svg>
<svg class="a" style="left:1037.5px;top:270.0px" width="70.3" height="73.7" viewBox="0 0 100 100" preserveAspectRatio="none"><rect x="0" y="0" width="100" height="100" rx="12.5" ry="12.5" fill="#046cb0"/><rect x="29" y="28" width="42" height="43" rx="9" fill="#fff"/>
<path d="M27 55 C36 51 44 49 56 53 C59 54 58 57 54 57 L46 57 C52 60 60 59 70 55 L72 58 C64 66 52 68 38 65 C34 64 30 65 27 66 Z" fill="#046cb0"/>
<path d="M49 55.5 C53 56 56 55.5 57 55" fill="none" stroke="#bfe4fb" stroke-width="1.5"/>
<g transform="rotate(-40 60 42)" fill="#046cb0"><ellipse cx="60" cy="37" rx="6" ry="2.6"/><ellipse cx="60" cy="42.5" rx="6" ry="2.6"/><ellipse cx="60" cy="48" rx="6" ry="2.6"/></g></svg>
<div class="t" style="left:773.8px;width:600px;top:352.8px;font-size:28px;line-height:28px;font-weight:bold;color:#1a1a1a;text-align:center;">委外管理</div>
<svg class="a" style="left:1258.0px;top:270.0px" width="71.0" height="73.7" viewBox="0 0 100 100" preserveAspectRatio="none"><rect x="0" y="0" width="100" height="100" rx="12.5" ry="12.5" fill="#046cb0"/><g transform="rotate(46.5 50.25 48.3)"><rect x="15.5" y="41" width="69.5" height="14.6" rx="3" fill="none" stroke="#cfeeff" stroke-width="2.8"/>
<g stroke="#cfeeff" stroke-width="2"><line x1="22" y1="54" x2="22" y2="47"/><line x1="27" y1="54" x2="27" y2="49"/><line x1="32" y1="54" x2="32" y2="47"/><line x1="68" y1="54" x2="68" y2="49"/><line x1="73" y1="54" x2="73" y2="47"/><line x1="78" y1="54" x2="78" y2="49"/></g></g>
<g transform="rotate(-44 50.1 50)"><rect x="29" y="40.8" width="35" height="18.4" fill="#fff"/><rect x="68" y="40.8" width="19.5" height="18.4" rx="3.5" fill="#fff"/>
<path d="M27.5 40.8 L27.5 59.2 L11.5 50 Z" fill="#fff"/></g></svg>
<div class="t" style="left:993.5px;width:600px;top:352.8px;font-size:28px;line-height:28px;font-weight:bold;color:#1a1a1a;text-align:center;">质检</div>
<svg class="a" style="left:1037.5px;top:427.5px" width="71.5" height="73.5" viewBox="0 0 100 100" preserveAspectRatio="none"><rect x="0" y="0" width="100" height="100" rx="12.5" ry="12.5" fill="#046cb0"/><rect x="24.9" y="24.2" width="50.2" height="51.6" rx="5" fill="#fff"/>
<path d="M35 42 l4.5 4.5 l8 -9" fill="none" stroke="#046cb0" stroke-width="4" stroke-linecap="round" stroke-linejoin="round"/>
<line x1="53" y1="42" x2="66.5" y2="42" stroke="#046cb0" stroke-width="3.6" stroke-linecap="round"/>
<circle cx="40.3" cy="57" r="4.2" fill="none" stroke="#046cb0" stroke-width="3.2"/>
<line x1="53" y1="57" x2="66.5" y2="57" stroke="#046cb0" stroke-width="3.6" stroke-linecap="round"/></svg>
<div class="t" style="left:773.5px;width:600px;top:510.4px;font-size:28px;line-height:28px;font-weight:bold;color:#1a1a1a;text-align:center;">派工管理</div>
<svg class="a" style="left:1258.0px;top:427.7px" width="71.0" height="73.0" viewBox="0 0 100 100" preserveAspectRatio="none"><rect x="0" y="0" width="100" height="100" rx="12.5" ry="12.5" fill="#046cb0"/><path d="M59 76.5 H32 a6 6 0 0 1 -6 -6 V32 a6 6 0 0 1 6 -6 H68 a6 6 0 0 1 6 6 V59" fill="none" stroke="#bfe4fb" stroke-width="3.2" stroke-linecap="round"/>
<circle cx="49.5" cy="50" r="13" fill="none" stroke="#bfe4fb" stroke-width="3.4"/>
<line x1="59" y1="60" x2="74" y2="76" stroke="#bfe4fb" stroke-width="3.4" stroke-linecap="round"/></svg>
<div class="t" style="left:993.5px;width:600px;top:510.4px;font-size:28px;line-height:28px;font-weight:bold;color:#1a1a1a;text-align:center;">在制品查询</div>
<svg class="a" style="left:1034.0px;top:580.7px" width="77.8" height="80.3" viewBox="0 0 100 100" preserveAspectRatio="none"><rect x="0" y="0" width="100" height="100" rx="12.5" ry="12.5" fill="#046cb0"/><rect x="35.3" y="22.2" width="32.1" height="10.3" rx="2.5" fill="#fff"/>
<path d="M25.3 35.6 H77.4 a3 3 0 0 1 3 3 V61.4 a3 3 0 0 1 -3 3 H71.2 V54.1 H31.5 V64.4 H25.3 a3 3 0 0 1 -3 -3 V38.6 a3 3 0 0 1 3 -3 Z" fill="#fff"/>
<rect x="35.3" y="55.7" width="32.1" height="21.6" rx="2.5" fill="#fff"/>
<rect x="41.3" y="58.6" width="19.6" height="2.8" rx="1.4" fill="#046cb0" opacity="0.8"/>
<rect x="41.3" y="66.6" width="11.4" height="2.8" rx="1.4" fill="#046cb0" opacity="0.8"/>
<circle cx="57" cy="68" r="1.6" fill="#046cb0" opacity="0.8"/>
<circle cx="73.4" cy="42" r="1.6" fill="#9fd0f0"/></svg>
<div class="t" style="left:773.0px;width:600px;top:666.6px;font-size:28px;line-height:28px;font-weight:bold;color:#1a1a1a;text-align:center;">在制品打印</div>
<div class="a" style="left:963.0px;top:887.0px;width:442.0px;height:2.0px;background:#f0f0f0;"></div>
<svg class="a" style="left:1058.0px;top:891.5px" width="30.0" height="29.0" viewBox="0 0 30 29"><path d="M6.5 13 L15 5.5 L23.5 13 L23.5 28 L17.5 28 L17.5 20 L12.5 20 L12.5 28 L6.5 28 Z" fill="#046cb0"/><path d="M1.5 14.5 L15 2 L28.5 14.5" fill="none" stroke="#046cb0" stroke-width="3.4" stroke-linecap="round" stroke-linejoin="round"/><rect x="20.5" y="0.5" width="3.3" height="8" fill="#046cb0"/></svg>
<svg class="a" style="left:1281.8px;top:894.2px" width="23.5" height="23.5" viewBox="0 0 24 24"><path d="M9.40 4.44 L9.64 1.77 L14.36 1.77 L14.60 4.44 L17.25 5.96 L19.68 4.84 L22.04 8.93 L19.85 10.47 L19.85 13.53 L22.04 15.07 L19.68 19.16 L17.25 18.04 L14.60 19.56 L14.36 22.23 L9.64 22.23 L9.40 19.56 L6.75 18.04 L4.32 19.16 L1.96 15.07 L4.15 13.53 L4.15 10.47 L1.96 8.93 L4.32 4.84 L6.75 5.96 Z M15.2 12 A3.2 3.2 0 1 0 8.8 12 A3.2 3.2 0 1 0 15.2 12 Z" fill="#8a8a8a" fill-rule="evenodd"/></svg>
<div class="t" style="left:773.5px;width:600px;top:926.5px;font-size:21.5px;line-height:21.5px;font-weight:bold;color:#111;text-align:center;">首页</div>
<div class="t" style="left:994.0px;width:600px;top:926.5px;font-size:21.5px;line-height:21.5px;font-weight:bold;color:#111;text-align:center;">设置</div>
<svg class="a" style="left:1078.0px;top:972.0px" width="14" height="14" viewBox="0 0 14 14"><g stroke="#8c8c8c" stroke-width="2"><line x1="0.5" y1="2" x2="13.5" y2="2"/><line x1="0.5" y1="7" x2="13.5" y2="7"/><line x1="0.5" y1="12" x2="13.5" y2="12"/></g></svg>
<svg class="a" style="left:1176.0px;top:972.0px" width="15" height="15" viewBox="0 0 15 15"><rect x="1.2" y="1.2" width="12.6" height="12.6" rx="3.2" fill="none" stroke="#8c8c8c" stroke-width="2.2"/></svg>
<svg class="a" style="left:1281.0px;top:972.0px" width="10" height="15" viewBox="0 0 10 15"><path d="M8.5 1 L2 7.5 L8.5 14" fill="none" stroke="#8c8c8c" stroke-width="2" stroke-linecap="round" stroke-linejoin="round"/></svg>
<div class="a" style="left:1412.0px;top:8.2px;width:461.0px;height:32.8px;background:#000;"></div>
<div class="t" style="left:1435.8px;top:21.8px;font-size:14.5px;line-height:14.5px;font-weight:bold;color:#dcdcdc;letter-spacing:-0.4px">晚上7:39</div>
<svg class="a" style="left:1498.5px;top:20.5px" width="20" height="16" viewBox="0 0 20 16"><path d="M4 12 C6 10 6 6 8 4 C10 2 13 2 15 4 C16 6 16 9 18 12 Z" fill="none" stroke="#dcdcdc" stroke-width="1.8"/><line x1="3" y1="15" x2="17" y2="1" stroke="#dcdcdc" stroke-width="1.8"/><circle cx="10" cy="14" r="1.5" fill="#dcdcdc"/></svg>
<svg class="a" style="left:1523.5px;top:20.5px" width="17" height="16" viewBox="0 0 17 16"><circle cx="8.5" cy="9" r="5.6" fill="none" stroke="#dcdcdc" stroke-width="1.9"/><path d="M6 8.5 L8.5 10.5 L11 8.5" fill="none" stroke="#dcdcdc" stroke-width="1.5"/><path d="M1.5 4 L4.5 1.5 M15.5 4 L12.5 1.5" stroke="#dcdcdc" stroke-width="1.9" stroke-linecap="round"/></svg>
<svg class="a" style="left:1700.5px;top:19.5px" width="11" height="17" viewBox="0 0 11 17"><path d="M1.5 5 L9 11.5 L5.5 15 L5.5 2 L9 5.5 L1.5 12" fill="none" stroke="#dcdcdc" stroke-width="1.7"/></svg>
<svg class="a" style="left:1717px;top:21.5px" width="14" height="13" viewBox="0 0 14 13"><rect x="0.5" y="0.5" width="13" height="12" rx="3.5" fill="#dcdcdc"/><text x="7" y="9.2" font-size="6.5" font-family="Liberation Sans" font-weight="bold" text-anchor="middle" fill="#222">HD</text></svg>
<svg class="a" style="left:1737px;top:21.5px" width="23" height="14" viewBox="0 0 21 14" preserveAspectRatio="none"><text x="3" y="4.5" font-size="4.5" font-family="Liberation Sans" fill="#dcdcdc">4G</text><rect x="5.0" y="12.0" width="2.1" height="2.0" fill="#dcdcdc"/><rect x="8.3" y="9.7" width="2.1" height="4.3" fill="#dcdcdc"/><rect x="11.6" y="7.4" width="2.1" height="6.6" fill="#dcdcdc"/><rect x="14.9" y="5.1" width="2.1" height="8.9" fill="#dcdcdc"/><rect x="18.2" y="2.8" width="2.1" height="11.2" fill="#dcdcdc"/></svg>
<svg class="a" style="left:1764px;top:21.5px" width="14" height="13" viewBox="0 0 14 13"><rect x="0.5" y="0.5" width="13" height="12" rx="3.5" fill="#dcdcdc"/><text x="7" y="9.2" font-size="6.5" font-family="Liberation Sans" font-weight="bold" text-anchor="middle" fill="#222">HD</text></svg>
<svg class="a" style="left:1783px;top:21.5px" width="28" height="14" viewBox="0 0 21 14" preserveAspectRatio="none"><text x="3" y="4.5" font-size="4.5" font-family="Liberation Sans" fill="#dcdcdc">4G</text><rect x="5.0" y="12.0" width="2.1" height="2.0" fill="#dcdcdc"/><rect x="8.3" y="9.7" width="2.1" height="4.3" fill="#dcdcdc"/><rect x="11.6" y="7.4" width="2.1" height="6.6" fill="#dcdcdc"/><rect x="14.9" y="5.1" width="2.1" height="8.9" fill="#dcdcdc"/><rect x="18.2" y="2.8" width="2.1" height="11.2" fill="#dcdcdc"/></svg>
<svg class="a" style="left:1816.5px;top:21.5px" width="30" height="14" viewBox="0 0 30 14" preserveAspectRatio="none"><rect x="1" y="1" width="25" height="12" rx="3.5" fill="none" stroke="#dcdcdc" stroke-width="1.6"/><rect x="3" y="3" width="12" height="8" rx="1.2" fill="#9a9a9a"/><text x="13.5" y="10.3" font-size="8.5" font-family="Liberation Sans" font-weight="bold" text-anchor="middle" fill="#eee">56</text><path d="M27 5 L29 7 L27 9 Z" fill="#dcdcdc"/></svg>
<svg class="a" style="left:1425px;top:54px" width="21" height="37" viewBox="0 0 21 37"><path d="M18 2.5 L3.5 18.5 L18 34.5" fill="none" stroke="#777" stroke-width="2.6" stroke-linecap="round" stroke-linejoin="round"/></svg>
<div class="t" style="left:1342.3px;width:600px;top:59.1px;font-size:29px;line-height:29px;font-weight:bold;color:#111;text-align:center;">在制品查询</div>
<div class="t" style="left:1537.2px;width:600px;top:59.6px;font-size:28px;line-height:28px;font-weight:bold;color:#111;text-align:center;">帮助</div>
<div class="a" style="left:1412.0px;top:101.5px;width:460.0px;height:2.0px;background:#eeeeee;"></div>
<div class="t" style="left:1158.5px;width:600px;top:123.2px;font-size:23px;line-height:23px;font-weight:bold;color:#111;text-align:center;">子件号</div>
<div class="t" style="left:1496.0px;top:122.4px;font-size:24.5px;line-height:24.5px;font-weight:normal;color:#9a9a9a;width:165px;overflow:hidden">请输入子件号(:</div>
<svg class="a" style="left:1664px;top:114.5px" width="38" height="39" viewBox="0 0 38 39"><g fill="none" stroke="#aaa" stroke-width="2"><path d="M2 11 V5 a4 4 0 0 1 4 -4 H12"/><path d="M26 1 H32 a4 4 0 0 1 4 4 V11"/><path d="M36 28 V34 a4 4 0 0 1 -4 4 H26"/><path d="M12 38 H6 a4 4 0 0 1 -4 -4 V28"/><line x1="1" y1="19.5" x2="37" y2="19.5"/></g></svg>
<div class="t" style="left:1448.0px;width:600px;top:118.2px;font-size:28px;line-height:28px;font-weight:bold;color:#1f72d6;text-align:center;">查询</div>
<div class="a" style="left:1789.5px;top:103.5px;width:1.5px;height:54.5px;background:#eeeeee;"></div>
<div class="t" style="left:1531.3px;width:600px;top:118.2px;font-size:28px;line-height:28px;font-weight:bold;color:#1f72d6;text-align:center;">更多</div>
<div class="a" style="left:1412.0px;top:157.0px;width:460.0px;height:2.0px;background:#eeeeee;"></div>
<div class="a" style="left:1424px;top:171px;width:434px;height:493px;border:1.5px solid #ececec;border-radius:16px"></div>
<div class="a" style="left:1424px;top:680px;width:434px;height:280px;border:1.5px solid #ececec;border-radius:16px 16px 0 0;border-bottom:none"></div>
<div class="t" style="left:1454.0px;top:201.5px;font-size:22px;line-height:22px;font-weight:normal;color:#1f6fd0;-webkit-text-stroke:0.5px #1f6fd0">1</div>
<div class="t" style="left:1507.0px;top:201.5px;font-size:22px;line-height:22px;font-weight:bold;color:#f3c21b;">当前：下料</div>
<div class="t" style="left:1624.5px;top:201.5px;font-size:22px;line-height:22px;font-weight:bold;color:#22a83a;">已完工</div>
<div class="t" style="left:1454.0px;top:710.5px;font-size:22px;line-height:22px;font-weight:normal;color:#1f6fd0;-webkit-text-stroke:0.5px #1f6fd0">2</div>
<div class="t" style="left:1507.0px;top:710.5px;font-size:22px;line-height:22px;font-weight:bold;color:#f3c21b;">当前：下料</div>
<div class="t" style="left:1624.5px;top:710.5px;font-size:22px;line-height:22px;font-weight:bold;color:#22a83a;">已完工</div>
<div class="a" style="left:1447.0px;top:233.5px;width:390.0px;height:1.5px;background:#eeeeee;"></div>
<div class="a" style="left:1447.0px;top:742.5px;width:390.0px;height:1.5px;background:#f4f4f4;"></div>
<svg class="a" style="left:1440px;top:240px" width="380" height="720" viewBox="0 0 380 720" shape-rendering="crispEdges"><rect x="50" y="10" width="20" height="20" fill="rgb(80,80,80)"/><rect x="90" y="10" width="20" height="20" fill="rgb(90,90,90)"/><rect x="130" y="10" width="20" height="20" fill="rgb(133,133,133)"/><rect x="150" y="10" width="20" height="20" fill="rgb(204,204,204)"/><rect x="170" y="10" width="20" height="20" fill="rgb(153,153,153)"/><rect x="190" y="10" width="20" height="20" fill="rgb(229,229,229)"/><rect x="210" y="10" width="20" height="20" fill="rgb(163,163,163)"/><rect x="230" y="10" width="20" height="20" fill="rgb(173,173,173)"/><rect x="270" y="10" width="20" height="20" fill="rgb(184,184,184)"/><rect x="310" y="10" width="20" height="20" fill="rgb(165,165,165)"/><rect x="330" y="10" width="20" height="20" fill="rgb(186,186,186)"/><rect x="10" y="90" width="20" height="20" fill="rgb(122,122,122)"/><rect x="90" y="90" width="20" height="20" fill="rgb(76,76,76)"/><rect x="130" y="90" width="20" height="20" fill="rgb(250,250,250)"/><rect x="150" y="90" width="20" height="20" fill="rgb(150,150,150)"/><rect x="170" y="90" width="20" height="20" fill="rgb(227,227,227)"/><rect x="210" y="90" width="20" height="20" fill="rgb(211,211,211)"/><rect x="230" y="90" width="20" height="20" fill="rgb(176,176,176)"/><rect x="250" y="90" width="20" height="20" fill="rgb(136,136,136)"/><rect x="10" y="130" width="20" height="20" fill="rgb(56,56,56)"/><rect x="90" y="130" width="20" height="20" fill="rgb(155,155,155)"/><rect x="130" y="130" width="20" height="20" fill="rgb(197,197,197)"/><rect x="150" y="130" width="20" height="20" fill="rgb(178,178,178)"/><rect x="170" y="130" width="20" height="20" fill="rgb(251,251,251)"/><rect x="190" y="130" width="20" height="20" fill="rgb(188,188,188)"/><rect x="230" y="130" width="20" height="20" fill="rgb(243,243,243)"/><rect x="270" y="130" width="20" height="20" fill="rgb(175,175,175)"/><rect x="10" y="170" width="20" height="20" fill="rgb(226,226,226)"/><rect x="50" y="170" width="20" height="20" fill="rgb(245,245,245)"/><rect x="90" y="170" width="20" height="20" fill="rgb(224,224,224)"/><rect x="10" y="190" width="20" height="20" fill="rgb(235,235,235)"/><rect x="50" y="190" width="20" height="20" fill="rgb(138,138,138)"/><rect x="90" y="190" width="20" height="20" fill="rgb(115,115,115)"/><rect x="150" y="190" width="20" height="20" fill="rgb(238,238,238)"/><rect x="170" y="190" width="20" height="20" fill="rgb(205,205,205)"/><rect x="210" y="190" width="20" height="20" fill="rgb(207,207,207)"/><rect x="230" y="190" width="20" height="20" fill="rgb(230,230,230)"/><rect x="250" y="190" width="20" height="20" fill="rgb(203,203,203)"/><rect x="270" y="190" width="20" height="20" fill="rgb(251,251,251)"/><rect x="290" y="190" width="20" height="20" fill="rgb(200,200,200)"/><rect x="10" y="230" width="20" height="20" fill="rgb(162,162,162)"/><rect x="30" y="230" width="20" height="20" fill="rgb(42,42,42)"/><rect x="50" y="230" width="20" height="20" fill="rgb(220,220,220)"/><rect x="70" y="230" width="20" height="20" fill="rgb(126,126,126)"/><rect x="90" y="230" width="20" height="20" fill="rgb(78,78,78)"/><rect x="130" y="230" width="20" height="20" fill="rgb(251,251,251)"/><rect x="150" y="230" width="20" height="20" fill="rgb(201,201,201)"/><rect x="170" y="230" width="20" height="20" fill="rgb(250,250,250)"/><rect x="10" y="270" width="20" height="20" fill="rgb(106,106,106)"/><rect x="90" y="270" width="20" height="20" fill="rgb(85,85,85)"/><rect x="130" y="270" width="20" height="20" fill="rgb(139,139,139)"/><rect x="150" y="270" width="20" height="20" fill="rgb(151,151,151)"/><rect x="170" y="270" width="20" height="20" fill="rgb(239,239,239)"/><rect x="10" y="310" width="20" height="20" fill="rgb(102,102,102)"/><rect x="90" y="310" width="20" height="20" fill="rgb(55,55,55)"/><rect x="130" y="310" width="20" height="20" fill="rgb(179,179,179)"/><rect x="150" y="310" width="20" height="20" fill="rgb(143,143,143)"/><rect x="170" y="310" width="20" height="20" fill="rgb(178,178,178)"/><rect x="190" y="310" width="20" height="20" fill="rgb(202,202,202)"/><rect x="210" y="310" width="20" height="20" fill="rgb(213,213,213)"/><rect x="230" y="310" width="20" height="20" fill="rgb(236,236,236)"/><rect x="250" y="310" width="20" height="20" fill="rgb(252,252,252)"/><rect x="270" y="310" width="20" height="20" fill="rgb(185,185,185)"/><rect x="290" y="310" width="20" height="20" fill="rgb(182,182,182)"/><rect x="310" y="310" width="20" height="20" fill="rgb(192,192,192)"/><rect x="330" y="310" width="20" height="20" fill="rgb(232,232,232)"/><rect x="350" y="310" width="20" height="20" fill="rgb(206,206,206)"/><rect x="10" y="530" width="20" height="20" fill="rgb(181,181,181)"/><rect x="50" y="530" width="20" height="20" fill="rgb(232,232,232)"/><rect x="90" y="530" width="20" height="20" fill="rgb(68,68,68)"/><rect x="130" y="530" width="20" height="20" fill="rgb(242,242,242)"/><rect x="150" y="530" width="20" height="20" fill="rgb(144,144,144)"/><rect x="170" y="530" width="20" height="20" fill="rgb(184,184,184)"/><rect x="190" y="530" width="20" height="20" fill="rgb(200,200,200)"/><rect x="210" y="530" width="20" height="20" fill="rgb(143,143,143)"/><rect x="230" y="530" width="20" height="20" fill="rgb(252,252,252)"/><rect x="250" y="530" width="20" height="20" fill="rgb(142,142,142)"/><rect x="270" y="530" width="20" height="20" fill="rgb(251,251,251)"/><rect x="310" y="530" width="20" height="20" fill="rgb(173,173,173)"/><rect x="350" y="530" width="20" height="20" fill="rgb(150,150,150)"/><rect x="10" y="590" width="20" height="20" fill="rgb(94,94,94)"/><rect x="90" y="590" width="20" height="20" fill="rgb(107,107,107)"/><rect x="150" y="590" width="20" height="20" fill="rgb(211,211,211)"/><rect x="170" y="590" width="20" height="20" fill="rgb(244,244,244)"/><rect x="190" y="590" width="20" height="20" fill="rgb(213,213,213)"/><rect x="230" y="590" width="20" height="20" fill="rgb(230,230,230)"/><rect x="10" y="610" width="20" height="20" fill="rgb(182,182,182)"/><rect x="90" y="610" width="20" height="20" fill="rgb(212,212,212)"/><rect x="10" y="650" width="20" height="20" fill="rgb(160,160,160)"/><rect x="90" y="650" width="20" height="20" fill="rgb(134,134,134)"/><rect x="150" y="650" width="20" height="20" fill="rgb(166,166,166)"/><rect x="170" y="650" width="20" height="20" fill="rgb(205,205,205)"/><rect x="190" y="650" width="20" height="20" fill="rgb(131,131,131)"/><rect x="210" y="650" width="20" height="20" fill="rgb(252,252,252)"/><rect x="230" y="650" width="20" height="20" fill="rgb(176,176,176)"/><rect x="10" y="690" width="20" height="20" fill="rgb(198,198,198)"/><rect x="50" y="690" width="20" height="20" fill="rgb(232,232,232)"/><rect x="90" y="690" width="20" height="20" fill="rgb(95,95,95)"/><rect x="170" y="690" width="20" height="20" fill="rgb(251,251,251)"/><rect x="190" y="690" width="20" height="20" fill="rgb(224,224,224)"/><rect x="210" y="690" width="20" height="20" fill="rgb(188,188,188)"/><rect x="230" y="690" width="20" height="20" fill="rgb(187,187,187)"/><rect x="250" y="690" width="20" height="20" fill="rgb(141,141,141)"/><rect x="270" y="690" width="20" height="20" fill="rgb(235,235,235)"/><rect x="290" y="690" width="20" height="20" fill="rgb(173,173,173)"/><rect x="310" y="690" width="20" height="20" fill="rgb(185,185,185)"/></svg>
<div class="t" style="left:1270.0px;width:600px;top:794.0px;font-size:21px;line-height:21px;font-weight:bold;color:#888;text-align:center;">9</div>
<div class="t" style="left:1413.0px;width:600px;top:886.5px;font-size:21px;line-height:21px;font-weight:bold;color:#888;text-align:center;">-6</div>
<div class="t" style="left:1448.0px;top:608.5px;font-size:29px;line-height:29px;font-weight:normal;color:#858585;-webkit-text-stroke:0.3px #858585">加工过程记录</div>
<div class="a" style="left:1629px;top:604px;width:40px;height:33px;border:1.5px solid #e6e6e6;border-radius:18px;background:#fff"></div>
<div class="a" style="left:1643px;top:604px;width:86px;height:33px;border:1.5px solid #e2e2e2;border-radius:18px;background:#fff"></div>
<svg class="a" style="left:1652px;top:614px" width="19" height="17" viewBox="0 0 19 17"><g fill="none" stroke="#666" stroke-width="2"><rect x="4" y="1" width="11" height="5" rx="1.5"/><rect x="1" y="6" width="17" height="7" rx="2"/><rect x="4" y="10" width="11" height="6" rx="1.5" fill="#fff"/></g></svg>
<div class="t" style="left:1682.0px;top:613.0px;font-size:19.5px;line-height:19.5px;font-weight:bold;color:#1f6fd0;">打印</div>
<div class="a" style="left:1745px;top:604px;width:90px;height:33px;border:1.5px solid #e2e2e2;border-radius:18px;background:#fff"></div>
<svg class="a" style="left:1759px;top:615px" width="14" height="14" viewBox="0 0 14 14"><g stroke="#777" stroke-width="2.2"><line x1="0" y1="2" x2="14" y2="2"/><line x1="0" y1="7" x2="14" y2="7"/><line x1="0" y1="12" x2="14" y2="12"/></g></svg>
<div class="t" style="left:1786.5px;top:613.0px;font-size:19.5px;line-height:19.5px;font-weight:bold;color:#1f6fd0;">详情</div>
<div class="a" style="left:1433.0px;top:996.0px;width:419.0px;height:1.5px;background:#f0f0f0;"></div>
<svg class="a" style="left:1532.0px;top:1018.0px" width="14" height="14" viewBox="0 0 14 14"><g stroke="#8c8c8c" stroke-width="2"><line x1="0.5" y1="2" x2="13.5" y2="2"/><line x1="0.5" y1="7" x2="13.5" y2="7"/><line x1="0.5" y1="12" x2="13.5" y2="12"/></g></svg>
<svg class="a" style="left:1635.0px;top:1018.0px" width="15" height="15" viewBox="0 0 15 15"><rect x="1.2" y="1.2" width="12.6" height="12.6" rx="3.2" fill="none" stroke="#8c8c8c" stroke-width="2.2"/></svg>
<svg class="a" style="left:1744.0px;top:1018.0px" width="10" height="15" viewBox="0 0 10 15"><path d="M8.5 1 L2 7.5 L8.5 14" fill="none" stroke="#8c8c8c" stroke-width="2" stroke-linecap="round" stroke-linejoin="round"/></svg>
<svg class="a" style="left:0;top:0" width="1890" height="1063" viewBox="0 0 1890 1063"><defs><filter id="er" x="-5%" y="-30%" width="110%" height="160%"><feMorphology operator="erode" radius="1.4 2.6"/></filter></defs><g opacity="0.3"><text transform="translate(715 850) rotate(-46)" filter="url(#er)" font-family="Liberation Serif" font-size="156" fill="#808080">制邦信息科技</text></g></svg>
</body></html>
